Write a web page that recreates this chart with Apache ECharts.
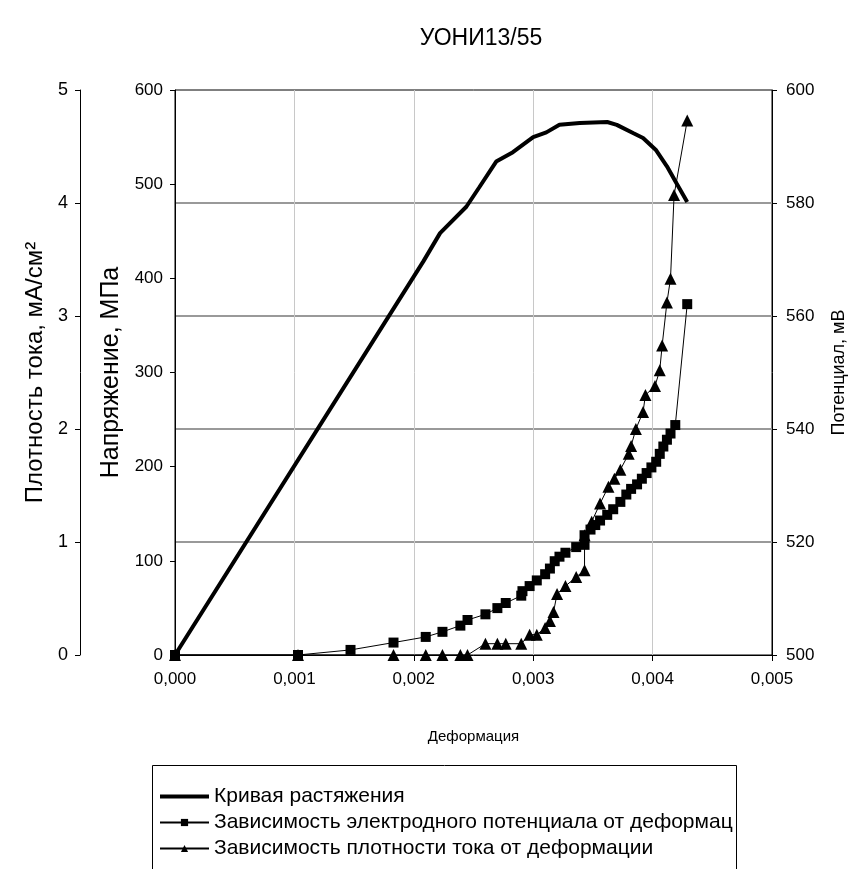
<!DOCTYPE html>
<html>
<head>
<meta charset="utf-8">
<script src="https://cdn.jsdelivr.net/npm/echarts@6/dist/echarts.min.js"></script>
<style>
html,body{margin:0;padding:0;background:#fff;}
#chart{width:857px;height:869px;}
</style>
</head>
<body>
<div id="chart"></div>
<script>
// ---- data ----
const titleText = 'УОНИ13/55';
const xName = 'Деформация';
const stressName = 'Напряжение, МПа';
const currentName = 'Плотность тока, мА/см²';
const potentialName = 'Потенциал, мВ';
const seriesNames = ['Кривая растяжения', 'Зависимость электродного потенциала от деформац', 'Зависимость плотности тока от деформации'];

// tensile curve: strain / stress (MPa)
const stressStrain = [0, 0.00208, 0.00222, 0.00244, 0.00255, 0.00269, 0.00283, 0.00300, 0.00311, 0.00322, 0.00339, 0.00362, 0.00370, 0.00384, 0.00392, 0.00403, 0.00412, 0.00420, 0.00429];
const stressValues = [0, 418, 448, 476, 497, 524, 534, 550, 555, 563, 565, 566, 563, 554, 549, 536, 519, 501, 481];

// electrode potential (mV)
const potStrain = [0, 0.00103, 0.00147, 0.00183, 0.00210, 0.00224, 0.00239, 0.00245, 0.00260, 0.00270, 0.00277, 0.00290, 0.00291, 0.00297, 0.00303, 0.00310, 0.00314, 0.00318, 0.00322, 0.00327, 0.00336, 0.00343, 0.00343, 0.00348, 0.00352, 0.00356, 0.00362, 0.00367, 0.00373, 0.00378, 0.00382, 0.00387, 0.00391, 0.00395, 0.00399, 0.00403, 0.00406, 0.00409, 0.00412, 0.00415, 0.00419, 0.00429];
const potValues = [500, 500, 500.9, 502.2, 503.2, 504.1, 505.2, 506.2, 507.2, 508.3, 509.2, 510.5, 511.3, 512.2, 513.2, 514.3, 515.3, 516.6, 517.4, 518.1, 519.1, 519.5, 521.2, 522.2, 523.0, 523.8, 524.8, 525.8, 527.1, 528.4, 529.4, 530.2, 531.2, 532.2, 533.2, 534.2, 535.6, 536.9, 538.1, 539.2, 540.7, 562.1];

// current density (mA/cm2)
const curStrain = [0, 0.00103, 0.00183, 0.00210, 0.00224, 0.00239, 0.00245, 0.00260, 0.00270, 0.00277, 0.00290, 0.00297, 0.00303, 0.00310, 0.00314, 0.00317, 0.00320, 0.00327, 0.00336, 0.00343, 0.00343, 0.00349, 0.00356, 0.00363, 0.00368, 0.00373, 0.00380, 0.00382, 0.00386, 0.00392, 0.00394, 0.00402, 0.00406, 0.00408, 0.00412, 0.00415, 0.00418, 0.00429];
const curValues = [0, 0, 0, 0, 0, 0, 0, 0.10, 0.10, 0.10, 0.10, 0.18, 0.18, 0.24, 0.30, 0.38, 0.54, 0.61, 0.69, 0.75, 1.06, 1.18, 1.34, 1.49, 1.56, 1.64, 1.78, 1.85, 2.00, 2.15, 2.30, 2.38, 2.52, 2.74, 3.12, 3.33, 4.07, 4.73];

const pairs = (xs, ys) => xs.map((x, i) => [x, ys[i]]);

const FONT = '"Liberation Sans", Arial, sans-serif';
const chart = echarts.init(document.getElementById('chart'), null, {renderer: 'canvas'});

const option = {
  backgroundColor: '#fff',
  animation: false,
  title: {
    text: titleText, left: 476, top: 22, textAlign: 'center',
    textStyle: {fontFamily: FONT, fontSize: 23, fontWeight: 'normal', color: '#000'}
  },
  grid: {left: 175, right: 85, top: 90, bottom: 214, show: true, borderColor: '#000', borderWidth: 1, backgroundColor: 'transparent'},
  graphic: [{
    type: 'rect', left: 152, top: 765, z: -1,
    shape: {width: 584, height: 130},
    style: {fill: '#fff', stroke: '#000', lineWidth: 1}
  }],
  legend: {
    orient: 'vertical', left: 153, top: 781, itemGap: 5, itemWidth: 49, itemHeight: 9,
    textStyle: {fontFamily: FONT, fontSize: 21, color: '#000'},
    data: [
      {name: seriesNames[0], itemStyle: {opacity: 0}, lineStyle: {width: 4}},
      {name: seriesNames[1]},
      {name: seriesNames[2]}
    ]
  },
  xAxis: {
    type: 'value', min: 0, max: 0.005, interval: 0.001,
    name: xName, nameLocation: 'middle', nameGap: 74,
    nameTextStyle: {fontFamily: FONT, fontSize: 15, color: '#000'},
    axisLine: {show: true, onZero: false, lineStyle: {color: '#000', width: 1}},
    axisTick: {show: true, inside: false, length: 6, lineStyle: {color: '#000'}},
    axisLabel: {margin: 16, fontFamily: FONT, fontSize: 17, color: '#000', formatter: v => v.toFixed(3).replace('.', ',')},
    splitLine: {show: true, lineStyle: {color: '#c8c8c8', width: 1}}
  },
  yAxis: [
    {
      type: 'value', position: 'left', offset: 0, min: 0, max: 600, interval: 100,
      name: stressName, nameLocation: 'middle', nameGap: 39,
      nameTextStyle: {fontFamily: FONT, fontSize: 25, color: '#000'},
      axisLine: {show: true, lineStyle: {color: '#000'}},
      axisTick: {show: true, inside: false, length: 5, lineStyle: {color: '#000'}},
      axisLabel: {margin: 12, fontFamily: FONT, fontSize: 17, color: '#000'},
      splitLine: {show: false}
    },
    {
      type: 'value', position: 'left', offset: 95, min: 0, max: 5, interval: 1,
      name: currentName, nameLocation: 'middle', nameGap: 23,
      nameTextStyle: {fontFamily: FONT, fontSize: 24, color: '#000'},
      axisLine: {show: true, lineStyle: {color: '#000'}},
      axisTick: {show: true, inside: false, length: 5, lineStyle: {color: '#000'}},
      axisLabel: {margin: 12, fontFamily: FONT, fontSize: 18, color: '#000'},
      splitLine: {show: false}
    },
    {
      type: 'value', position: 'right', offset: 0, min: 500, max: 600, interval: 20,
      name: potentialName, nameLocation: 'middle', nameGap: 58, nameRotate: 90,
      nameTextStyle: {fontFamily: FONT, fontSize: 18, color: '#000'},
      axisLine: {show: true, lineStyle: {color: '#000'}},
      axisTick: {show: true, inside: false, length: 5, lineStyle: {color: '#000'}},
      axisLabel: {margin: 14, fontFamily: FONT, fontSize: 17, color: '#000'},
      splitLine: {show: true, showMinLine: false, showMaxLine: false, lineStyle: {color: '#999', width: 2}}
    }
  ],
  series: [
    {
      name: seriesNames[0], type: 'line', xAxisIndex: 0, yAxisIndex: 0,
      data: pairs(stressStrain, stressValues),
      symbol: 'none', lineStyle: {color: '#000', width: 4}, itemStyle: {color: '#000'}
    },
    {
      name: seriesNames[1], type: 'line', xAxisIndex: 0, yAxisIndex: 2,
      data: pairs(potStrain, potValues),
      symbol: 'rect', symbolSize: 10, showAllSymbol: true,
      lineStyle: {color: '#000', width: 1}, itemStyle: {color: '#000'}
    },
    {
      name: seriesNames[2], type: 'line', xAxisIndex: 0, yAxisIndex: 1,
      data: pairs(curStrain, curValues),
      symbol: 'triangle', symbolSize: 12, showAllSymbol: true,
      lineStyle: {color: '#000', width: 1}, itemStyle: {color: '#000'}
    }
  ]
};
chart.setOption(option);
</script>
</body>
</html>
